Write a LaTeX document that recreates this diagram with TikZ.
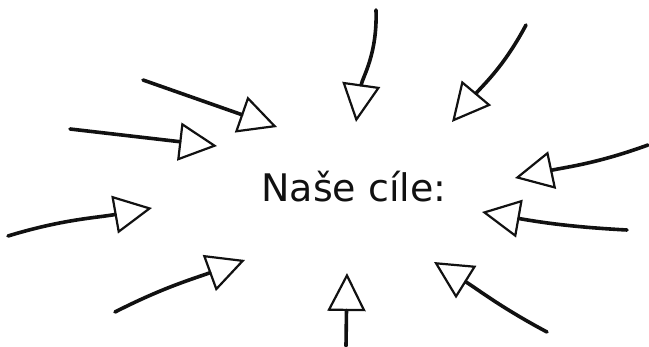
\documentclass[tikz,border=0pt]{standalone}
\usepackage{fontspec}
\setmainfont{DejaVu Sans}
\usetikzlibrary{arrows.meta}
\definecolor{ink}{HTML}{111111}

\begin{document}
\begin{tikzpicture}[x=1pt,y=1pt,
  pointer/.style={draw=ink,line width=3.6pt,line cap=round,
    -{Triangle[open,length=38pt,width=38pt,line width=2.2pt]}}]
  \useasboundingbox (0,0) rectangle (649,346);
  \node[font=\fontsize{38}{40}\selectfont,text=ink,anchor=base] (goal) at (354,144) {Naše cíle:};
  \coordinate (tailA) at (143,266); \coordinate (tipA) at (277,219);
  \coordinate (tailB) at (70,217);  \coordinate (tipB) at (217,200);
  \coordinate (tailC) at (376,336); \coordinate (tipC) at (356,224);
  \coordinate (tailD) at (526,321); \coordinate (tipD) at (452,224);
  \coordinate (tailE) at (648,201); \coordinate (tipE) at (515,168);
  \coordinate (tailF) at (627,116); \coordinate (tipF) at (482,134);
  \coordinate (tailG) at (547,14);  \coordinate (tipG) at (434,84);
  \coordinate (tailH) at (346,0);   \coordinate (tipH) at (347,73);
  \coordinate (tailI) at (8,110);   \coordinate (tipI) at (152,138);
  \coordinate (tailJ) at (115,34);  \coordinate (tipJ) at (245,86);
  \draw[pointer] (tailA) -- (tipA);
  \draw[pointer] (tailB) -- (tipB);
  \draw[pointer] (tailC) to[out=-88,in=82] (tipC);
  \draw[pointer] (tailD) to[out=-118,in=50] (tipD);
  \draw[pointer] (tailE) to[out=200,in=12] (tipE);
  \draw[pointer] (tailF) to[out=177,in=-10] (tipF);
  \draw[pointer] (tailG) to[out=152,in=-32] (tipG);
  \draw[pointer] (tailH) -- (tipH);
  \draw[pointer] (tailI) to[out=17,in=190] (tipI);
  \draw[pointer] (tailJ) to[out=27,in=200] (tipJ);
\end{tikzpicture}
\end{document}
